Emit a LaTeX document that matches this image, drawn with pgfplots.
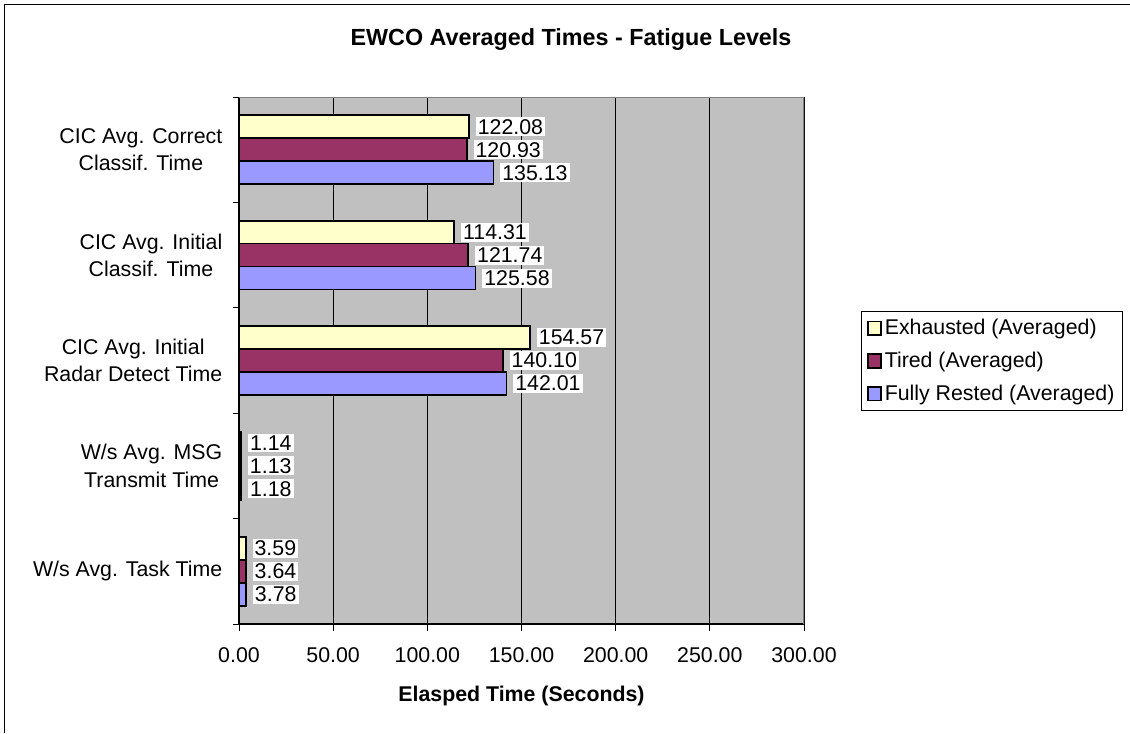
\documentclass[border=0pt]{standalone}
\usepackage{pgfplots}
\pgfplotsset{compat=1.18}
\usepackage{fontspec}
\setmainfont{Liberation Sans}
\definecolor{exh}{HTML}{FFFFCC}
\definecolor{tir}{HTML}{993366}
\definecolor{res}{HTML}{9999FF}
\definecolor{plotgray}{HTML}{C0C0C0}
\definecolor{framegray}{HTML}{808080}
\newcommand{\lblfont}{\fontsize{16}{20.5}\selectfont}
\begin{document}
\begin{tikzpicture}
\useasboundingbox (0,0) rectangle (847.5pt,549.75pt);
\draw[line width=0.75pt] (3pt,0) -- (3pt,546.4pt) -- (847.5pt,546.4pt);
\node[font=\fontsize{17.5}{21}\selectfont\bfseries] at (428.25pt,519.75pt) {EWCO Averaged Times - Fatigue Levels};
\begin{axis}[
  at={(179.25pt,81.75pt)}, anchor=south west,
  scale only axis, width=423.75pt, height=395.25pt,
  xbar, bar width=0.218,
  xmin=0, xmax=300, ymin=-0.5, ymax=4.5,
  axis background/.style={fill=plotgray},
  axis x line*=bottom, axis y line*=left,
  axis line style={black, line width=0.9pt},
  xtick={0,50,...,300},
  xmajorgrids, major grid style={black, line width=0.6pt},
  ytick={0,1,2,3,4},
  yticklabels={{W/s Avg. Task Time},{W/s Avg. MSG\\Transmit Time},{CIC Avg. Initial\\Radar Detect Time},{CIC Avg. Initial\\Classif. Time},{CIC Avg. Correct\\Classif. Time}},
  minor ytick={-0.5,0.5,...,4.5},
  major y tick style={draw=none},
  tick align=outside,
  major tick length=5.25pt, minor tick length=4.5pt,
  tick style={black, line width=0.75pt},
  /pgf/number format/.cd, fixed, fixed zerofill, precision=2, assume math mode=true, /pgfplots/.cd,
  ticklabel style={font=\lblfont},
  xticklabel style={yshift=-9pt},
  yticklabel style={align=center, xshift=-3.75pt},
  xlabel={Elasped Time (Seconds)},
  xlabel style={font=\lblfont\bfseries, at={(axis description cs:0.5,-0.136)}, anchor=center},
  point meta=x,
  nodes near coords,
  nodes near coords style={anchor=west, fill=white, inner sep=1.5pt, xshift=4.5pt, font=\lblfont, text=black},
  legend style={at={(1.101,0.594)}, anchor=north west, draw=black, line width=0.75pt, font=\lblfont, row sep=7.5pt, inner xsep=4pt, inner ysep=4pt},
  legend cell align=left,
  legend image code/.code={\draw[#1, line width=1.4pt] (1pt,-5pt) rectangle (11pt,5pt);},
]
\addplot[draw=black, line width=1.3pt, fill=exh, bar shift=0.218] coordinates {(3.59,0) (1.14,1) (154.57,2) (114.31,3) (122.08,4)};
\addplot[draw=black, line width=1.3pt, fill=tir, bar shift=0] coordinates {(3.64,0) (1.13,1) (140.10,2) (121.74,3) (120.93,4)};
\addplot[draw=black, line width=1.3pt, fill=res, bar shift=-0.218] coordinates {(3.78,0) (1.18,1) (142.01,2) (125.58,3) (135.13,4)};
\legend{Exhausted (Averaged),Tired (Averaged),Fully Rested (Averaged)}
\draw[framegray, line width=1.2pt] (rel axis cs:0,1) -- (rel axis cs:1,1) -- (rel axis cs:1,0);
\end{axis}
\end{tikzpicture}
\end{document}
